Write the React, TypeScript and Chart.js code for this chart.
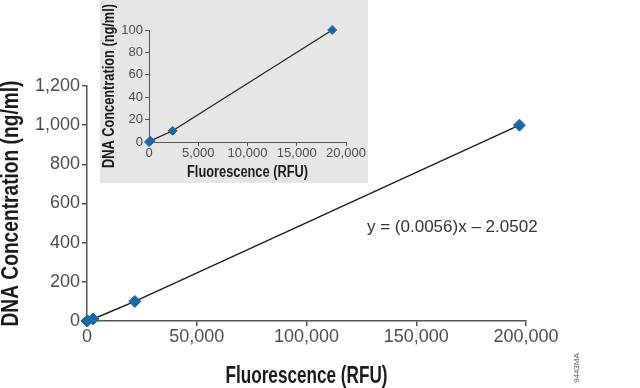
import React, { useEffect, useRef } from "react";
import { Chart, registerables } from "chart.js";

Chart.register(...registerables);

// ---- data ----
const fluorescence = [0, 200, 2800, 21800, 197000];
const concentration = [0, 1, 10, 100, 1000];
const insetFluorescence = [0, 150, 2400, 18600];
const insetConcentration = [0, 1, 10, 100];

const mainXTicks = [0, 50000, 100000, 150000, 200000];
const mainYTicks = [0, 200, 400, 600, 800, 1000, 1200];
const insetXTicks = [0, 5000, 10000, 15000, 20000];
const insetYTicks = [0, 20, 40, 60, 80, 100];

const xTitle = "Fluorescence (RFU)";
const yTitle = "DNA Concentration (ng/ml)";
const equationLabel = "y = (0.0056)x – 2.0502";
const figureCode = "9443MA";

const LIGHT = '"Liberation Sans", Arial, sans-serif';
const BOLD = '"Liberation Sans", Arial, sans-serif';
const MARKER = "#1c67a3";
const AXIS = "#555555";
const TICK_COLOR = "#4d4d4d";

const fmt = (v: number) => v.toLocaleString("en-US");

function toPoints(xs: number[], ys: number[]) {
  return xs.map((x, i) => ({ x, y: ys[i] }));
}

function makeTicks(values: number[]) {
  return (scale: any) => {
    scale.ticks = values.map((v) => ({ value: v }));
  };
}

// Axis titles drawn in a condensed bold face (the text is squeezed to the reference width).
const condensedTitles = {
  id: "condensedTitles",
  afterDraw(chart: any, _args: any, opts: any) {
    const { ctx, chartArea } = chart;
    for (const t of opts.items || []) {
      ctx.save();
      ctx.font = `bold ${t.size}px ${BOLD}`;
      ctx.fillStyle = t.color;
      ctx.textAlign = "center";
      ctx.textBaseline = "middle";
      if (t.axis === "x") {
        ctx.translate((chartArea.left + chartArea.right) / 2, t.pos);
      } else {
        ctx.translate(t.pos, (chartArea.top + chartArea.bottom) / 2);
        ctx.rotate(-Math.PI / 2);
      }
      ctx.fillText(t.text, 0, 0, t.width);
      ctx.restore();
    }
  },
};

function axisOpts(min: number, max: number, values: number[], size: number, fontSize: number, tickLength: number, padding: number, width: number, isX: boolean) {
  return {
    type: "linear",
    min,
    max,
    afterBuildTicks: makeTicks(values),
    afterFit: (s: any) => {
      if (isX) s.height = size;
      else s.width = size;
    },
    border: { color: AXIS, width },
    grid: { drawOnChartArea: false, drawTicks: true, tickLength, color: AXIS, lineWidth: width },
    ticks: {
      font: { family: LIGHT, size: fontSize },
      color: TICK_COLOR,
      padding,
      maxRotation: 0,
      autoSkip: false,
      callback: (v: any) => fmt(Number(v)),
    },
    title: { display: false },
  };
}

export default function App() {
  const mainRef = useRef<HTMLCanvasElement | null>(null);
  const insetRef = useRef<HTMLCanvasElement | null>(null);

  useEffect(() => {
    document.body.style.margin = "0";
    const main = new Chart(mainRef.current as HTMLCanvasElement, {
      type: "scatter",
      data: {
        datasets: [
          {
            data: toPoints(fluorescence, concentration),
            showLine: true,
            borderColor: "#1e1e1e",
            borderWidth: 1.5,
            pointStyle: "rectRot",
            pointRadius: 6,
            pointHoverRadius: 6,
            pointBackgroundColor: MARKER,
            pointBorderColor: MARKER,
            pointBorderWidth: 1,
            clip: false as any,
          },
        ],
      },
      plugins: [condensedTitles],
      options: {
        responsive: false,
        animation: false,
        layout: { padding: { top: 86, right: 114, left: 0, bottom: 0 } },
        plugins: {
          legend: { display: false },
          tooltip: { enabled: false },
          condensedTitles: {
            items: [
              { axis: "x", text: xTitle, pos: 377, size: 23, width: 162, color: "#1a1a1a" },
              { axis: "y", text: yTitle, pos: 12, size: 23, width: 246, color: "#1a1a1a" },
            ],
          },
        },
        scales: {
          x: axisOpts(0, 200000, mainXTicks, 67, 18, 5, 0, 1.5, true),
          y: axisOpts(0, 1200, mainYTicks, 87, 18, 5, 2, 1.5, false),
        },
      },
    } as any);

    const inset = new Chart(insetRef.current as HTMLCanvasElement, {
      type: "scatter",
      data: {
        datasets: [
          {
            data: toPoints(insetFluorescence, insetConcentration),
            showLine: true,
            borderColor: "#1e1e1e",
            borderWidth: 1.2,
            pointStyle: "rectRot",
            pointRadius: 4.5,
            pointHoverRadius: 4.5,
            pointBackgroundColor: MARKER,
            pointBorderColor: MARKER,
            pointBorderWidth: 1,
            clip: false as any,
          },
        ],
      },
      plugins: [condensedTitles],
      options: {
        responsive: false,
        animation: false,
        layout: { padding: { top: 30, right: 22, left: 0, bottom: 0 } },
        plugins: {
          legend: { display: false },
          tooltip: { enabled: false },
          condensedTitles: {
            items: [
              { axis: "x", text: xTitle, pos: 173, size: 16, width: 121, color: "#1a1a1a" },
              { axis: "y", text: yTitle, pos: 10, size: 16, width: 164, color: "#1a1a1a" },
            ],
          },
        },
        scales: {
          x: axisOpts(0, 20000, insetXTicks, 41, 13, 4, 0, 1, true),
          y: axisOpts(0, 100, insetYTicks, 49, 13, 4, 2, 1, false),
        },
      },
    } as any);

    return () => {
      main.destroy();
      inset.destroy();
    };
  }, []);

  return (
    <div style={{ position: "relative", width: 640, height: 388, background: "#fff", overflow: "hidden" }}>
      <canvas ref={mainRef} width={640} height={388} style={{ position: "absolute", left: 0, top: 0 }} />
      <div
        style={{
          position: "absolute",
          left: 100,
          top: 0,
          width: 268,
          height: 183,
          background: "#e6e6e6",
        }}
      >
        <canvas ref={insetRef} width={268} height={183} style={{ position: "absolute", left: 0, top: 0 }} />
      </div>
      <div
        style={{
          position: "absolute",
          left: 367,
          top: 217,
          fontFamily: LIGHT,
          fontSize: 17,
          lineHeight: "20px",
          color: "#333",
          whiteSpace: "nowrap",
        }}
      >
        {equationLabel}
      </div>
      <div
        style={{
          position: "absolute",
          left: 577,
          top: 368,
          transform: "translate(-50%, -50%) rotate(-90deg)",
          fontFamily: LIGHT,
          fontSize: 8,
          lineHeight: "10px",
          color: "#555",
          whiteSpace: "nowrap",
        }}
      >
        {figureCode}
      </div>
    </div>
  );
}
